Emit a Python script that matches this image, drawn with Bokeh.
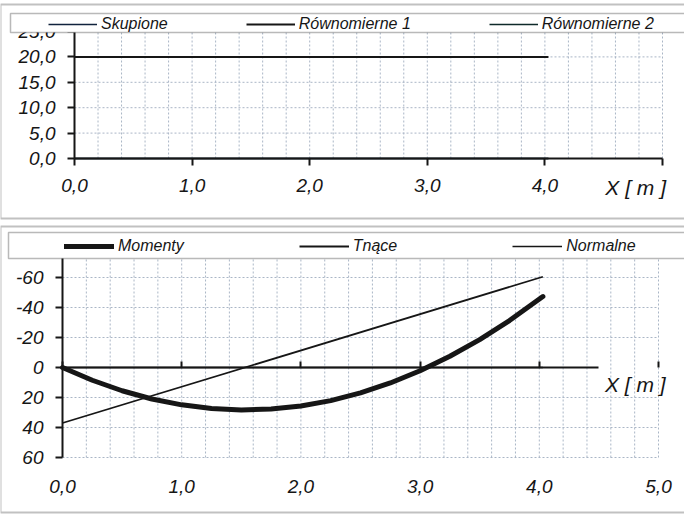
from bokeh.plotting import figure
from bokeh.layouts import column
from bokeh.models import (Range1d, FixedTicker, Legend, LegendItem, Label,
                          BoxAnnotation, LinearAxis)
from bokeh.embed import file_html
from bokeh.resources import INLINE

FONT = "Liberation Sans"
INK = "#161616"
GRID = "#aab6c6"

# ---------------- data: upper chart (loads) ----------------
x_ticks = [0, 1, 2, 3, 4, 5]
top_y_ticks = [0, 5, 10, 15, 20, 25]
skupione_x = [0.0, 4.03]
skupione_y = [0.0, 0.0]
rown1_x = [0.0, 4.03]
rown1_y = [20.0, 20.0]
rown2_x = [0.0, 4.03]
rown2_y = [0.0, 0.0]
top_legend = ["Skupione", "Równomierne 1", "Równomierne 2"]

# ---------------- data: lower chart (internal forces) ----------------
bot_y_ticks = [-80, -60, -40, -20, 0, 20, 40, 60]
mom_x = [0.0, 0.25, 0.5, 0.75, 1.0, 1.25, 1.5, 1.75, 2.0, 2.25, 2.5, 2.75,
         3.0, 3.25, 3.5, 3.75, 4.03]
mom_y = [0.0, 8.5, 15.5, 21.0, 24.9, 27.4, 28.3, 27.7, 25.7, 22.1, 16.9, 10.3,
         2.2, -7.5, -18.6, -31.3, -47.3]
shear_x = [0.0, 4.03]
shear_y = [37.0, -60.5]
norm_x = [0.0, 4.03]
norm_y = [0.0, 0.0]
zero_axis_end = 4.5
bot_legend = ["Momenty", "Tnące", "Normalne"]
x_title = "X [ m ]"


def comma(v, nd=1):
    return f"{v:.{nd}f}".replace(".", ",")


def make_axis(bounds, ticks, loc, labels=None, tick_out=7, tick_in=0,
              standoff=12, line=True):
    ax = LinearAxis(fixed_location=loc, bounds=bounds,
                    ticker=FixedTicker(ticks=ticks))
    ax.major_label_text_font = FONT
    ax.major_label_text_font_style = "italic"
    ax.major_label_text_font_size = "19px"
    ax.major_label_text_color = INK
    ax.axis_line_color = INK if line else None
    ax.axis_line_width = 2
    ax.major_tick_line_color = INK if (tick_out or tick_in) else None
    ax.major_tick_line_width = 2
    ax.major_tick_in = tick_in
    ax.major_tick_out = tick_out
    ax.minor_tick_line_color = None
    ax.major_label_standoff = standoff
    if labels is not None:
        ax.major_label_overrides = labels
    return ax


def grid_lines(p, xs, y0, y1, ys, x0, x1):
    p.segment(x0=xs, y0=[y0] * len(xs), x1=xs, y1=[y1] * len(xs),
              line_color=GRID, line_width=1, line_dash="2 2")
    p.segment(x0=[x0] * len(ys), y0=ys, x1=[x1] * len(ys), y1=ys,
              line_color=GRID, line_width=1, line_dash="2 2")


def canvas_box(p, left, right, top, bottom, fill=None, lw=1.5, color=INK):
    p.add_layout(BoxAnnotation(left=left, right=right, top=top, bottom=bottom,
                               left_units="canvas", right_units="canvas",
                               top_units="canvas", bottom_units="canvas",
                               fill_color=fill or "white",
                               fill_alpha=1 if fill else 0,
                               line_color=color, line_width=lw))


minor_x = [round(i * 0.2, 2) for i in range(1, 26)]
W = 684

# ================= upper figure =================
H1 = 220
X0, X5 = 74, 662      # canvas px of x=0 and x=5
Y0, Y25 = 158, 31     # canvas px of y=0 and y=25
ux = (X5 - X0) / 5
uy = (Y0 - Y25) / 25
p1 = figure(width=W, height=H1, min_border=0,
            x_range=Range1d(-X0 / ux, 5 + (W - X5) / ux),
            y_range=Range1d(-(H1 - Y0) / uy, Y0 / uy),
            x_axis_location=None, y_axis_location=None,
            output_backend="svg", toolbar_location=None)
p1.background_fill_color = "white"
p1.border_fill_color = "white"
p1.outline_line_color = None
p1.xgrid.visible = False
p1.ygrid.visible = False

grid_lines(p1, minor_x, 0, 25, top_y_ticks[1:], 0, 5)

lbl_top = {t: comma(t) for t in x_ticks}
lbl_top[5] = ""
p1.add_layout(make_axis((0, 5), x_ticks, 0, lbl_top, standoff=13), "below")
p1.add_layout(make_axis((0, 25), top_y_ticks, 0,
                        {t: comma(t) for t in top_y_ticks}), "left")

r_sk = p1.line(skupione_x, skupione_y, line_color="#10233d", line_width=1.6)
r_r2 = p1.line(rown2_x, rown2_y, line_color="#0f2a2a", line_width=1.6)
r_r1 = p1.line(rown1_x, rown1_y, line_color=INK, line_width=2)

canvas_box(p1, 0, 720, 4, 218, lw=2, color="#333333")
canvas_box(p1, 10, 720, 13, 32, fill="white")

leg1 = Legend(items=[LegendItem(label=top_legend[0], renderers=[r_sk]),
                     LegendItem(label=top_legend[1], renderers=[r_r1]),
                     LegendItem(label=top_legend[2], renderers=[r_r2])],
              orientation="horizontal", location=(48, H1 - 32.5),
              glyph_width=49, glyph_height=16, label_height=16,
              label_standoff=4, spacing=78, padding=2, margin=0,
              border_line_color=None, background_fill_alpha=0,
              label_text_font=FONT, label_text_font_style="italic",
              label_text_font_size="16px", label_text_color=INK)
p1.add_layout(leg1, "center")

p1.add_layout(Label(x=5.03, y=0, text=x_title, text_align="right",
                    text_baseline="middle", y_offset=-29,
                    text_font=FONT, text_font_style="italic",
                    text_font_size="21px", text_color=INK))

# ================= lower figure =================
H2 = 298
BX0, BX5 = 62, 658    # canvas px of x=0 and x=5
BY0 = 147             # canvas px of y=0
buy = 1.5             # px per unit (downwards positive)
bux = (BX5 - BX0) / 5
p2 = figure(width=W, height=H2, min_border=0,
            x_range=Range1d(-BX0 / bux, 5 + (W - BX5) / bux),
            y_range=Range1d((H2 - BY0) / buy, -BY0 / buy),
            x_axis_location=None, y_axis_location=None,
            output_backend="svg", toolbar_location=None)
p2.background_fill_color = "white"
p2.border_fill_color = "white"
p2.outline_line_color = None
p2.xgrid.visible = False
p2.ygrid.visible = False

grid_lines(p2, minor_x, bot_y_ticks[0], bot_y_ticks[-1],
           [t for t in bot_y_ticks if t != 0], 0, 5)

# labels along the bottom edge
p2.add_layout(make_axis((0, 5), x_ticks, bot_y_ticks[-1],
                        {t: comma(t) for t in x_ticks},
                        tick_out=0, standoff=22, line=False), "below")
# axis line at zero level, ticks pointing up, no labels
p2.add_layout(make_axis((0, zero_axis_end), x_ticks, 0,
                        {t: "" for t in x_ticks}, tick_out=0, tick_in=6),
              "below")
p2.add_layout(make_axis((bot_y_ticks[0], bot_y_ticks[-1]), bot_y_ticks, 0,
                        {t: str(t) for t in bot_y_ticks}), "left")

r_n = p2.line(norm_x, norm_y, line_color=INK, line_width=1.6)
r_t = p2.line(shear_x, shear_y, line_color=INK, line_width=1.8)
r_m = p2.line(mom_x, mom_y, line_color=INK, line_width=5, line_cap="round")

canvas_box(p2, 0, 720, 6, 292, lw=2, color="#333333")
canvas_box(p2, 8, 720, 12, 38, fill="white")

leg2 = Legend(items=[LegendItem(label=bot_legend[0], renderers=[r_m]),
                     LegendItem(label=bot_legend[1], renderers=[r_t]),
                     LegendItem(label=bot_legend[2], renderers=[r_n])],
              orientation="horizontal", location=(64, H2 - 35),
              glyph_width=50, glyph_height=16, label_height=16,
              label_standoff=4, spacing=115, padding=2, margin=0,
              border_line_color=None, background_fill_alpha=0,
              label_text_font=FONT, label_text_font_style="italic",
              label_text_font_size="16px", label_text_color=INK)
p2.add_layout(leg2, "center")

p2.add_layout(Label(x=5.06, y=0, text=x_title, text_align="right",
                    text_baseline="middle", y_offset=-17,
                    text_font=FONT, text_font_style="italic",
                    text_font_size="21px", text_color=INK))

layout = column(p1, p2, spacing=0)
open("out.html", "w").write(file_html(layout, INLINE))
